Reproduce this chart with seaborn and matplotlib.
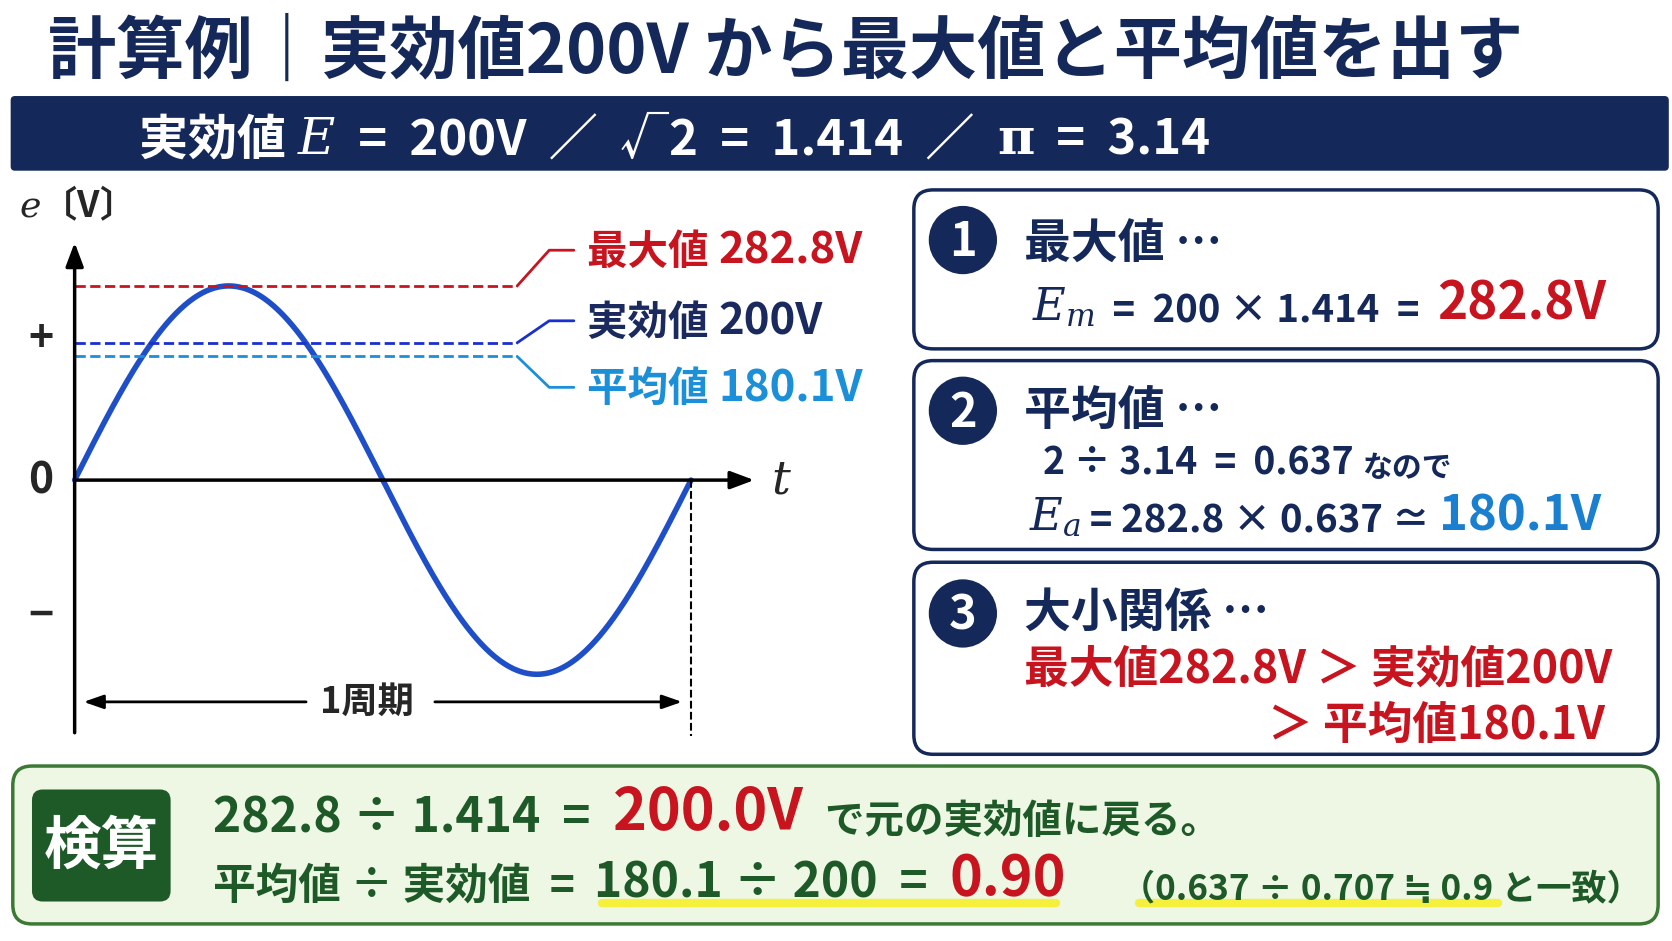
import matplotlib.pyplot as plt
import matplotlib.patches as mp
import numpy as np
import seaborn as sns

sns.set_theme(style="white")
plt.rcParams['font.family'] = ['Noto Sans CJK JP', 'DejaVu Sans']
plt.rcParams['mathtext.fontset'] = 'dejavuserif'

## Data
levels = [282.8, 200.0, 180.1]
level_names = ['最大値', '実効値', '平均値']
level_colors = ['#c8141e', '#1a2fd0', '#1b8fd8']
label_colors = ['#c8141e', '#1a2a5e', '#1b8fd8']
amplitude = 282.8
NAVY = '#14285a'
RED = '#c8141e'
BLUE = '#1b7fd0'
GREEN = '#1e5a28'

W, H = 1568, 882
S = 1672 / W / (100 / 72)   # display px -> pt

fig = plt.figure(figsize=(16.72, 9.41), dpi=100)
bg = fig.add_axes([0, 0, 1, 1])
bg.set_xlim(0, W)
bg.set_ylim(H, 0)
bg.axis('off')

def chain(ax, x, y, pieces, **kw):
    prev = None
    for s, size, color in pieces:
        if prev is None:
            prev = ax.text(x, y, s, fontsize=size * S, color=color, fontweight='bold',
                           va='baseline', ha='left', **kw)
        else:
            prev = ax.annotate(s, xy=(1, 0), xycoords=prev, fontsize=size * S, color=color,
                               fontweight='bold', va='bottom', ha='left', **kw)
    return prev

# title
bg.text(45, 68, '計算例｜実効値200V から最大値と平均値を出す', fontsize=64 * S,
        color=NAVY, fontweight='bold', va='baseline')
bg.add_patch(mp.FancyBboxPatch((10, 90), 1555, 70, boxstyle='round,pad=0,rounding_size=4',
                               fc=NAVY, ec='none'))
chain(bg, 130, 145, [('実効値 ', 46, 'white'), ('$\\mathbf{\\mathit{E}}$', 48, 'white'),
                     ('  =  200V  ／  √2  =  1.414  ／  ', 46, 'white'),
                     ('$\\mathbf{\\pi}$', 48, 'white'), ('  =  3.14', 46, 'white')])

# waveform axes
px0, px1, py0, py1 = 20, 840, 180, 700
ax = fig.add_axes([px0 / W, 1 - py1 / H, (px1 - px0) / W, (py1 - py0) / H])
ax.axis('off')
tpx, vpx = 578, 182 / amplitude
ax.set_xlim(-(70 - px0) / tpx, 1 + (px1 - 648) / tpx)
ax.set_ylim(-(py1 - 450) / vpx, (450 - py0) / vpx)
t = np.linspace(0, 1, 400)
sns.lineplot(x=t, y=amplitude * np.sin(2 * np.pi * t), ax=ax, color='#1f4fc8', lw=4)
ax.annotate('', xy=(1.107, 0), xytext=(0, 0),
            arrowprops=dict(arrowstyle='-|>,head_length=1.2,head_width=0.45', color='black', lw=2.5))
ax.annotate('', xy=(0, 350), xytext=(0, -372),
            arrowprops=dict(arrowstyle='-|>,head_length=1.2,head_width=0.45', color='black', lw=2.5))
ax.plot([1, 1], [0, -372], ls='--', color='black', lw=1.5)
ax.annotate('', xy=(0.01, -323), xytext=(0.38, -323),
            arrowprops=dict(arrowstyle='-|>,head_length=1,head_width=0.35', color='black', lw=2))
ax.annotate('', xy=(0.99, -323), xytext=(0.58, -323),
            arrowprops=dict(arrowstyle='-|>,head_length=1,head_width=0.35', color='black', lw=2))
ax.text(0.475, -323, '1周期', fontsize=34 * S, fontweight='bold', ha='center', va='center')
ax.text(1.13, 0, '$\\mathbf{\\mathit{t}}$', fontsize=44 * S, ha='left', va='center')
ax.text(-0.09, 400, '$\\mathbf{\\mathit{e}}$〔V〕', fontsize=34 * S, fontweight='bold',
        ha='left', va='center')
for lab, v in [('+', 205), ('0', 0), ('−', -198)]:
    ax.text(-0.055, v, lab, fontsize=40 * S, fontweight='bold', ha='center', va='center')

offsets = [52, 32, -45]
for v, name, lc, tc, off in zip(levels, level_names, level_colors, label_colors, offsets):
    ax.plot([0, 0.718], [v, v], ls='--', color=lc, lw=2)
    ax.plot([0.718, 0.77, 0.81], [v, v + off, v + off], color=lc, lw=2)
    chain(ax, 0.832, v + off - 20, [(name + ' ', 38, tc), (f'{v:g}V', 41, tc)])

# right boxes
for (y0, y1), n in zip([(178, 327), (338, 515), (527, 707)], ['1', '2', '3']):
    bg.add_patch(mp.FancyBboxPatch((857, y0), 698, y1 - y0, boxstyle='round,pad=0,rounding_size=18',
                                   fc='white', ec=NAVY, lw=2.5))
    cy = {'1': 225, '2': 385, '3': 575}[n]
    bg.add_patch(mp.Circle((903, cy), 32, fc=NAVY, ec='none'))
    bg.text(903, cy + 2, n, color='white', fontsize=44 * S, fontweight='bold', ha='center', va='center')

bg.text(960, 242, '最大値 …', fontsize=44 * S, color=NAVY, fontweight='bold')
chain(bg, 968, 300, [('$E_m$', 42, NAVY), ('  =  200 × 1.414  =  ', 36, NAVY), ('282.8V', 48, RED)])
bg.text(960, 398, '平均値 …', fontsize=44 * S, color=NAVY, fontweight='bold')
chain(bg, 978, 445, [('2 ÷ 3.14  =  0.637 ', 35, NAVY), ('なので', 28, NAVY)])
chain(bg, 965, 497, [('$E_a$', 42, NAVY), (' = 282.8 × 0.637 ≃ ', 36, NAVY), ('180.1V', 46, BLUE)])
bg.text(960, 587, '大小関係 …', fontsize=44 * S, color=NAVY, fontweight='bold')
bg.text(960, 640, '最大値282.8V ＞ 実効値200V', fontsize=42 * S, color=RED, fontweight='bold')
bg.text(1505, 693, '＞ 平均値180.1V', fontsize=42 * S, color=RED, fontweight='bold', ha='right')

# check box
bg.add_patch(mp.FancyBboxPatch((12, 718), 1543, 148, boxstyle='round,pad=0,rounding_size=18',
                               fc='#eef6e4', ec='#3a7a34', lw=2.5))
bg.add_patch(mp.FancyBboxPatch((30, 740), 130, 105, boxstyle='round,pad=0,rounding_size=10',
                               fc=GREEN, ec='none'))
bg.text(95, 794, '検算', fontsize=54 * S, color='white', fontweight='bold', ha='center', va='center')
chain(bg, 200, 780, [('282.8 ÷ 1.414  =  ', 45, GREEN), ('200.0V ', 54, RED),
                     (' で元の実効値に戻る。', 37, GREEN)])
bg.plot([565, 990], [846, 846], color='#f5f03c', lw=6, solid_capstyle='round', zorder=1)
bg.plot([1068, 1405], [846, 846], color='#f5f03c', lw=6, solid_capstyle='round', zorder=1)
chain(bg, 200, 842, [('平均値 ÷ 実効値  =  ', 40, GREEN), ('180.1 ÷ 200  =  ', 45, GREEN),
                     ('0.90', 52, RED)])
bg.text(1050, 843, '（0.637 ÷ 0.707 ≒ 0.9 と一致）', fontsize=33 * S, color=GREEN, fontweight='bold')

fig.savefig('out.png', dpi=100)
